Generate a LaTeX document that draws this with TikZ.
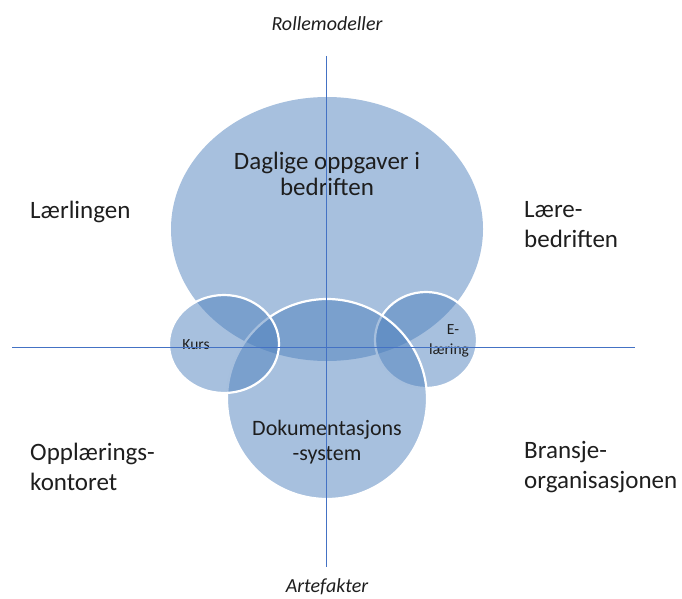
\documentclass[tikz,border=0pt]{standalone}
\usepackage{fontspec}
\setmainfont{Carlito}
\usetikzlibrary{shapes.geometric}
\definecolor{blob}{RGB}{79,129,189}
\definecolor{axis}{RGB}{68,114,196}
\definecolor{ink}{RGB}{30,30,30}
\tikzset{
  blobshape/.style={ellipse, fill=blob, fill opacity=0.5, text opacity=1, inner sep=0pt, text=ink, align=center},
  ringed/.style={blobshape, draw=white, line width=2.2pt},
  biglabel/.style={font=\fontsize{25}{30}\selectfont, text=ink, align=left, inner sep=0pt},
  innerlabel/.style={font=\fontsize{25}{26.5}\selectfont, text=ink, align=center, inner sep=0pt},
  smalllabel/.style={font=\fontsize{15.5}{20}\selectfont, text=ink, inner sep=0pt},
  axislabel/.style={font=\fontsize{20}{24}\selectfont\itshape, text=ink, inner sep=0pt},
  axisline/.style={draw=axis, line width=0.8pt}
}
\begin{document}
\begin{tikzpicture}[x=1pt,y=-1pt]
\useasboundingbox (0,0) rectangle (682,599);
% shapes
\node[blobshape, minimum width=312pt, minimum height=264pt] (big) at (327,229) {};
\node[ringed, minimum width=102pt, minimum height=96pt] (elaer) at (426,340) {};
\node[ringed, minimum width=200pt, minimum height=200pt] (doku) at (327,399) {};
\node[ringed, minimum width=110pt, minimum height=98pt] (kurs) at (224,344) {};
% texts in shapes
\node[innerlabel] (daglige) at (327,174) {Daglige oppgaver i\\bedriften};
\node[innerlabel, font=\fontsize{22}{25}\selectfont] (dokutxt) at (327,442) {Dokumentasjons\\-system};
\node[smalllabel] (kurstxt) at (196,345) {Kurs};
\node[smalllabel, align=center] (elaertxt) at (449,341) {\hspace*{8pt}E-\\læring};
% axes
\coordinate (vtop) at (326,56);
\coordinate (vbot) at (326,567);
\coordinate (hl) at (12,347);
\coordinate (hr) at (635,347);
\draw[axisline] (vtop) -- (vbot);
\draw[axisline] (hl) -- (hr);
% outer labels
\node[axislabel] (roll) at (327,24) {Rollemodeller};
\node[axislabel] (arte) at (327,587) {Artefakter};
\node[biglabel, anchor=west] (laerling) at (30,212) {Lærlingen};
\node[biglabel, anchor=west] (laerebed) at (524,225) {Lære-\\bedriften};
\node[biglabel, anchor=west] (oppl) at (30,467) {Opplærings-\\kontoret};
\node[biglabel, anchor=west] (bransje) at (524,467) {Bransje-\\organisasjonen};
\end{tikzpicture}
\end{document}
